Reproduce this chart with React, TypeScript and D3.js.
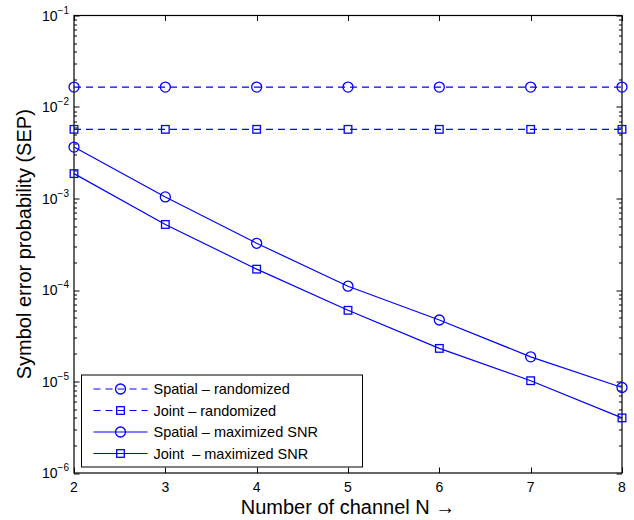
import React, { useEffect, useRef } from 'react'
import * as d3 from 'd3'

const channels = [2, 3, 4, 5, 6, 7, 8]
const spatialRandomized = [0.0165, 0.0165, 0.0165, 0.0165, 0.0165, 0.0165, 0.0165]
const jointRandomized = [0.0057, 0.0057, 0.0057, 0.0057, 0.0057, 0.0057, 0.0057]
const spatialMaxSNR = [0.00365, 0.00104, 0.000324, 0.00011, 0.000047, 0.0000186, 0.0000086]
const jointMaxSNR = [0.00187, 0.00052, 0.000169, 0.00006, 0.000023, 0.0000102, 0.000004]
const seriesNames = [
  'Spatial \u2013 randomized',
  'Joint \u2013 randomized',
  'Spatial \u2013 maximized SNR',
  'Joint  \u2013 maximized SNR',
]
const yTickExponents = [-1, -2, -3, -4, -5, -6]

const W = 634
const H = 520
const FONT = 'Arial, "Liberation Sans", Helvetica, sans-serif'
const BLUE = '#0000ff'

const App = () => {
  const ref = useRef<SVGGElement>(null)

  useEffect(() => {
    const g = d3.select(ref.current)
    g.selectAll('*').remove()

    const margin = { top: 15.5, right: 12, bottom: 47, left: 74 }
    const innerWidth = W - margin.left - margin.right
    const innerHeight = H - margin.top - margin.bottom

    const x = d3.scaleLinear().domain([2, 8]).range([0, innerWidth])
    const y = d3.scaleLog().domain([1e-6, 1e-1]).range([innerHeight, 0])

    const plot = g.append('g').attr('transform', `translate(${margin.left},${margin.top})`)

    // ticks, inward on all four sides
    const tickG = plot.append('g').attr('stroke', '#000').attr('stroke-width', 1)
    channels.forEach(c => {
      const px = Math.round(x(c)) + 0.5
      tickG.append('line').attr('x1', px).attr('x2', px).attr('y1', innerHeight).attr('y2', innerHeight - 5.5)
      tickG.append('line').attr('x1', px).attr('x2', px).attr('y1', 0).attr('y2', 5.5)
    })
    for (let e = -6; e <= -1; e++) {
      const py = Math.round(y(Math.pow(10, e))) + 0.5
      tickG.append('line').attr('x1', 0).attr('x2', 5.5).attr('y1', py).attr('y2', py)
      tickG.append('line').attr('x1', innerWidth).attr('x2', innerWidth - 5.5).attr('y1', py).attr('y2', py)
      if (e < -1) {
        for (let m = 2; m <= 9; m++) {
          const my = Math.round(y(m * Math.pow(10, e))) + 0.5
          tickG.append('line').attr('x1', 0).attr('x2', 3).attr('y1', my).attr('y2', my)
          tickG.append('line').attr('x1', innerWidth).attr('x2', innerWidth - 3).attr('y1', my).attr('y2', my)
        }
      }
    }

    // box
    plot.append('rect')
      .attr('x', 0).attr('y', 0)
      .attr('width', innerWidth).attr('height', innerHeight)
      .attr('fill', 'none').attr('stroke', '#000').attr('stroke-width', 1.2)

    // x tick labels
    plot.append('g').selectAll('text')
      .data(channels)
      .enter().append('text')
      .attr('x', d => x(d))
      .attr('y', innerHeight + 19)
      .attr('text-anchor', 'middle')
      .attr('font-family', FONT)
      .attr('font-size', 14)
      .text(d => d)

    // y tick labels 10^e
    const yl = plot.append('g').selectAll('text')
      .data(yTickExponents)
      .enter().append('text')
      .attr('x', -5)
      .attr('y', d => y(Math.pow(10, d)) + 5)
      .attr('text-anchor', 'end')
      .attr('font-family', FONT)
      .attr('font-size', 14)
    yl.append('tspan').text('10')
    yl.append('tspan').attr('font-size', 10).attr('dy', -7).text(d => '\u2212' + Math.abs(d))

    // series
    const series = [
      { values: spatialRandomized, dash: '7,5', marker: 'circle' },
      { values: jointRandomized, dash: '7,5', marker: 'square' },
      { values: spatialMaxSNR, dash: null, marker: 'circle' },
      { values: jointMaxSNR, dash: null, marker: 'square' },
    ]
    const line = d3.line<number>().x((d, i) => x(channels[i])).y(d => y(d))

    const drawMarker = (sel: any, kind: string, cx: number, cy: number) => {
      if (kind === 'circle') {
        sel.append('circle').attr('cx', cx).attr('cy', cy).attr('r', 5)
          .attr('fill', 'none').attr('stroke', BLUE).attr('stroke-width', 1.3)
      } else {
        sel.append('rect').attr('x', cx - 3.8).attr('y', cy - 3.8).attr('width', 7.6).attr('height', 7.6)
          .attr('fill', 'none').attr('stroke', BLUE).attr('stroke-width', 1.3)
      }
    }

    series.forEach(s => {
      plot.append('path')
        .datum(s.values)
        .attr('d', line)
        .attr('fill', 'none')
        .attr('stroke', BLUE)
        .attr('stroke-width', 1.2)
        .attr('stroke-dasharray', s.dash)
      const mg = plot.append('g')
      s.values.forEach((v, i) => drawMarker(mg, s.marker, x(channels[i]), y(v)))
    })

    // legend
    const lg = plot.append('g').attr('transform', 'translate(7.5,359.5)')
    lg.append('rect').attr('width', 281).attr('height', 92)
      .attr('fill', '#fff').attr('stroke', '#000').attr('stroke-width', 1)
    series.forEach((s, i) => {
      const ly = 14 + i * 21.5
      lg.append('line').attr('x1', 12).attr('x2', 66).attr('y1', ly).attr('y2', ly)
        .attr('stroke', BLUE).attr('stroke-width', 1.2).attr('stroke-dasharray', s.dash)
      drawMarker(lg, s.marker, 39, ly)
      lg.append('text').attr('x', 72).attr('y', ly + 5)
        .attr('font-family', FONT).attr('font-size', 14.5)
        .style('white-space', 'pre')
        .text(seriesNames[i])
    })

    // axis titles
    g.append('text')
      .attr('x', margin.left + innerWidth / 2)
      .attr('y', 514)
      .attr('text-anchor', 'middle')
      .attr('font-family', FONT)
      .attr('font-size', 20)
      .text('Number of channel N \u2192')

    g.append('text')
      .attr('transform', `translate(31,${margin.top + innerHeight / 2}) rotate(-90)`)
      .attr('text-anchor', 'middle')
      .attr('font-family', FONT)
      .attr('font-size', 20)
      .text('Symbol error probability (SEP)')
  }, [])

  return (
    <div style={{ position: 'absolute', left: 0, top: 0 }}>
      <svg width={W} height={H} style={{ display: 'block', background: '#fff' }}>
        <g ref={ref} />
      </svg>
    </div>
  )
}

export default App
